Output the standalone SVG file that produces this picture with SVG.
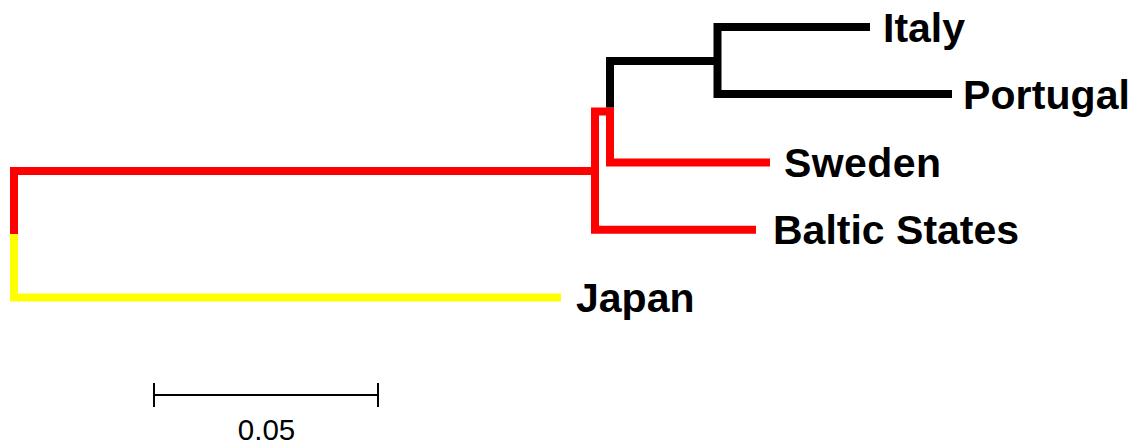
<svg xmlns="http://www.w3.org/2000/svg" width="1138" height="445" viewBox="0 0 1138 445">
  <style>
    .br { fill: none; stroke-width: 8; stroke-linejoin: miter; stroke-linecap: butt; }
    .red { stroke: #ff0000; }
    .yel { stroke: #ffff00; }
    .blk { stroke: #000000; }
    .lbl { font-family: "Liberation Sans", Arial, sans-serif; font-weight: bold; font-size: 41px; fill: #000; }
    .scale { fill: none; stroke: #000; stroke-width: 2; }
    .scl { font-family: "Liberation Sans", Arial, sans-serif; font-size: 29.5px; fill: #000; }
  </style>
  <rect width="1138" height="445" fill="#ffffff"/>

  <!-- tree branches -->
  <g id="connectors">
    <!-- root: red upper clade, yellow Japan -->
    <path class="br red" d="M599,171 H14 V234"/>
    <path class="br yel" d="M14,234 V297.5 H561"/>
    <!-- European clade node -->
    <path class="br red" d="M756,229.7 H595 V111.5 H610 V162.5 H770"/>
    <!-- Italy / Portugal clade -->
    <path class="br blk" d="M610,107.5 V61 H717.5"/>
    <path class="br blk" d="M870,27 H717.5 V94 H952"/>
  </g>

  <!-- leaf labels -->
  <g id="italy"><text class="lbl" x="883" y="41.5">Italy</text></g>
  <g id="portugal"><text class="lbl" x="963" y="108.5" textLength="167" lengthAdjust="spacing">Portugal</text></g>
  <g id="sweden"><text class="lbl" x="784" y="177" textLength="157" lengthAdjust="spacing">Sweden</text></g>
  <g id="baltic-states"><text class="lbl" x="773" y="244">Baltic States</text></g>
  <g id="japan"><text class="lbl" x="576" y="312">Japan</text></g>

  <!-- scale bar -->
  <g id="scale-bar">
    <path class="scale" d="M154,395 H378 M154,383 V407 M378,383 V407"/>
    <text class="scl" x="266.5" y="440" text-anchor="middle">0.05</text>
  </g>
</svg>
